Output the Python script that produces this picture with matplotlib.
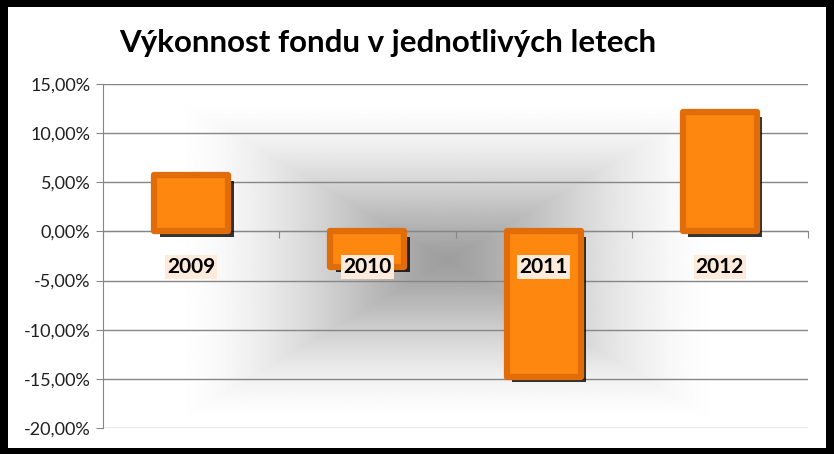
import numpy as np
import matplotlib
matplotlib.use("Agg")
import matplotlib.pyplot as plt
import matplotlib.patheffects as pe
from matplotlib.patches import Rectangle
from matplotlib.ticker import FuncFormatter

# ── data ──────────────────────────────────────────────────────
YEARS   = ["2009", "2010", "2011", "2012"]
RETURNS = [5.7, -3.6, -14.8, 12.2]          # % per year
Y_TICKS = [-20, -15, -10, -5, 0, 5, 10, 15]
TITLE   = "Výkonnost fondu v jednotlivých letech"

FONT = ["Lato", "DejaVu Sans"]
BAR_FACE = "#FD870F"
BAR_EDGE = "#E06C0A"
GRID_COL = "#868686"

fig = plt.figure(figsize=(8.34, 4.54), dpi=100)
fig.patch.set_facecolor("black")
# white chart area inside the black frame
fig.add_artist(Rectangle((8 / 834, 6 / 454), 818 / 834, 441 / 454,
                         transform=fig.transFigure, facecolor="white",
                         edgecolor="none", zorder=0))

ax = fig.add_axes([103 / 834, 1 - 428 / 454, 705 / 834, 344 / 454])
ax.set_facecolor("none")
ax.set_xlim(-0.5, len(YEARS) - 0.5)
ax.set_ylim(Y_TICKS[0], Y_TICKS[-1])

# rectangular "from centre" grey gradient behind the bars
n = 400
u = np.linspace(-1, 1, n)
U, V = np.meshgrid(u, u)
d = np.clip(np.maximum(np.abs(U), np.abs(V)), 0, 1)
s = d * d * (3 - 2 * d)
shade = 0.62 + 0.38 * s ** 0.7
ax.imshow(shade, cmap="gray", vmin=0, vmax=1, extent=[-0.15, 3.05, -20, 14],
          aspect="auto", zorder=0, interpolation="bilinear")

# grid + axes
ax.set_yticks(Y_TICKS)
ax.yaxis.set_major_formatter(FuncFormatter(lambda v, _: f"{v:.2f}%".replace(".", ",")))
ax.grid(axis="y", color=GRID_COL, linewidth=1, zorder=1)
for sp in ["top", "right"]:
    ax.spines[sp].set_visible(False)
ax.spines["left"].set_color(GRID_COL)
ax.spines["bottom"].set_position(("data", 0))
ax.spines["bottom"].set_color(GRID_COL)
ax.spines["bottom"].set_zorder(1)
ax.set_xticks(np.arange(-0.5, len(YEARS), 1.0))
ax.tick_params(axis="x", length=5, color=GRID_COL, labelbottom=False)
ax.tick_params(axis="y", length=5, color=GRID_COL, labelsize=13, pad=4, labelcolor="#202020")
for lab in ax.get_yticklabels():
    lab.set_family(FONT)

# bars
x = np.arange(len(YEARS))
bars = ax.bar(x, RETURNS, width=0.42, color=BAR_FACE, edgecolor=BAR_EDGE,
              linewidth=4.5, zorder=3)
for b in bars:
    b.set_joinstyle("round")
    b.set_path_effects([pe.SimplePatchShadow(offset=(4, -4), shadow_rgbFace="black", alpha=0.8),
                        pe.Normal()])

# category labels just below the zero line
for xi, yr in zip(x, YEARS):
    ax.text(xi, -3.6, yr, ha="center", va="center", fontsize=15, fontweight="bold",
            family=FONT, zorder=5,
            bbox=dict(boxstyle="square,pad=0.1", facecolor="#FDEADA", edgecolor="none"))

fig.text(0.465, 1 - 43 / 454, TITLE, ha="center", va="center", fontsize=22.5,
         fontweight="bold", family=FONT)

fig.savefig("out.png", dpi=100, facecolor=fig.get_facecolor())
